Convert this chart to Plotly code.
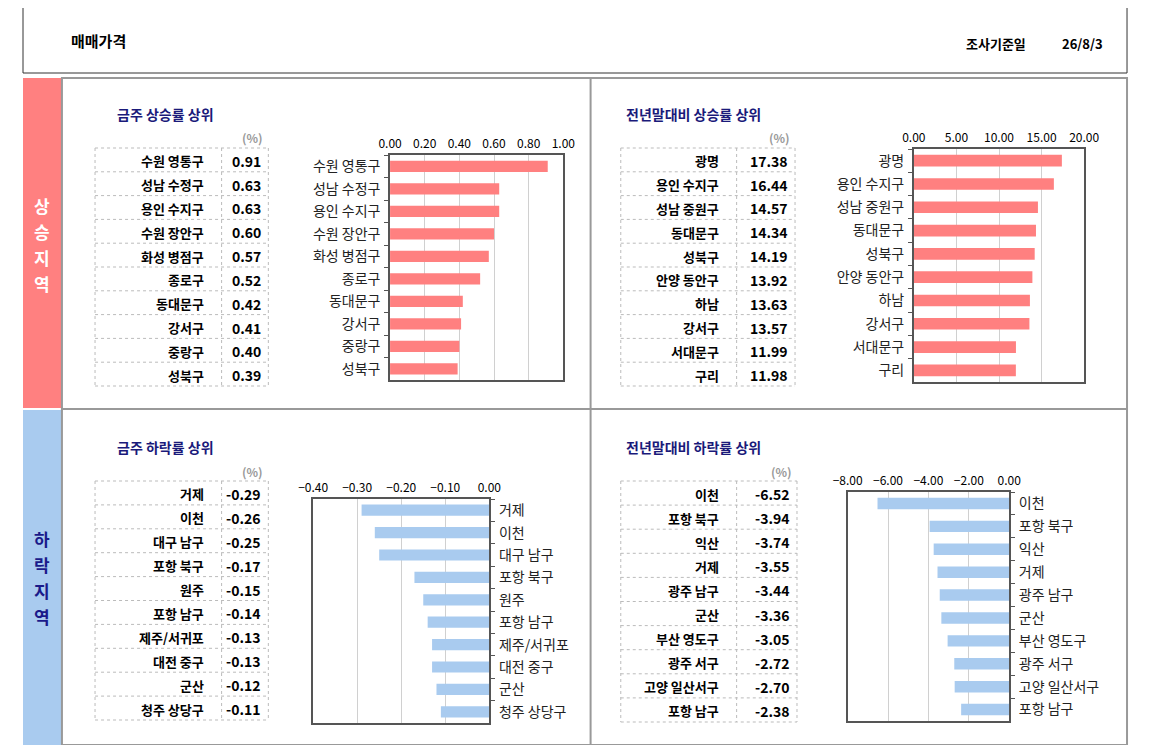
import plotly.graph_objects as go

W, H = 1135, 737
OFF = 8
# ---- data ----
up_week_names = ["수원 영통구","성남 수정구","용인 수지구","수원 장안구","화성 병점구","종로구","동대문구","강서구","중랑구","성북구"]
up_week_vals = [0.91,0.63,0.63,0.60,0.57,0.52,0.42,0.41,0.40,0.39]
up_year_names = ["광명","용인 수지구","성남 중원구","동대문구","성북구","안양 동안구","하남","강서구","서대문구","구리"]
up_year_vals = [17.38,16.44,14.57,14.34,14.19,13.92,13.63,13.57,11.99,11.98]
dn_week_names = ["거제","이천","대구 남구","포항 북구","원주","포항 남구","제주/서귀포","대전 중구","군산","청주 상당구"]
dn_week_vals = [-0.29,-0.26,-0.25,-0.17,-0.15,-0.14,-0.13,-0.13,-0.12,-0.11]
dn_year_names = ["이천","포항 북구","익산","거제","광주 남구","군산","부산 영도구","광주 서구","고양 일산서구","포항 남구"]
dn_year_vals = [-6.52,-3.94,-3.74,-3.55,-3.44,-3.36,-3.05,-2.72,-2.70,-2.38]

RED = "#FF8080"; BLUE = "#A9CBEF"
FONT = "Noto Sans CJK KR"

def px(x): return (x - OFF) / W
def py(y): return 1 - (y - OFF) / H

fig = go.Figure()
shapes, ann = [], []

def rect(x0, y0, x1, y1, line="#999", lw=1.5, fill=None):
    shapes.append(dict(type="rect", xref="paper", yref="paper", x0=px(x0), x1=px(x1), y0=py(y1), y1=py(y0),
                       line=dict(color=line, width=lw) if lw else dict(width=0),
                       fillcolor=fill, layer="below"))

def text(x, y, s, size=13, color="#000", bold=False, xanchor="left"):
    ann.append(dict(xref="paper", yref="paper", x=px(x), y=py(y), text=f"<b>{s}</b>" if bold else s,
                    showarrow=False, xanchor=xanchor, yanchor="middle",
                    font=dict(family=FONT, size=size, color=color)))

# header
rect(8, 5, 1142, 73, line="#333", lw=1)
text(55, 40, "매매가격", 15, bold=True)
text(975, 43, "조사기준일", 13, bold=True)
text(1073, 43, "26/8/3", 13, bold=True)

# side bands
rect(8, 78, 48, 408, lw=0, fill=RED)
rect(8, 410, 48, 745, lw=0, fill=BLUE)
for i, ch in enumerate("상승지역"):
    text(28, 205 + i * 26, ch, 17, color="white", bold=True, xanchor="center")
for i, ch in enumerate("하락지역"):
    text(28, 538 + i * 26, ch, 17, color="#1a1a8a", bold=True, xanchor="center")
# panel frame
rect(48, 78, 1142, 745, line="#999", lw=2)
shapes.append(dict(type="line", xref="paper", yref="paper", x0=px(591), x1=px(591), y0=py(745), y1=py(78), line=dict(color="#999", width=2)))
shapes.append(dict(type="line", xref="paper", yref="paper", x0=px(48), x1=px(1142), y0=py(409), y1=py(409), line=dict(color="#999", width=2)))

def table(x0, xd, x1, y0, y1, names, vals, title, tx, ty):
    text(tx, ty, title, 14, color="#1a1a7a", bold=True)
    text(x1 - 3, y0 - 10, "(%)", 12, color="#999", bold=True, xanchor="right")
    n = len(names); h = (y1 - y0) / n
    for i in range(n + 1):
        yy = y0 + i * h
        shapes.append(dict(type="line", xref="paper", yref="paper", x0=px(x0), x1=px(x1), y0=py(yy), y1=py(yy),
                           line=dict(color="#bbb", width=1, dash="dot")))
    for xx in (x0, xd, x1):
        shapes.append(dict(type="line", xref="paper", yref="paper", x0=px(xx), x1=px(xx), y0=py(y0), y1=py(y1),
                           line=dict(color="#bbb", width=1, dash="dot")))
    for i, (nm, v) in enumerate(zip(names, vals)):
        yc = y0 + (i + 0.5) * h
        text(xd - 16, yc + 1, nm, 13, bold=True, xanchor="right")
        text(x1 - 5, yc + 1, f"{v:.2f}", 14, bold=True, xanchor="right")

table(82, 212, 260, 148, 386, up_week_names, up_week_vals, "금주 상승률 상위", 103, 114)
table(622, 741, 801, 148, 386, up_year_names, up_year_vals, "전년말대비 상승률 상위", 625, 114)
table(82, 212, 260, 481, 720, dn_week_names, dn_week_vals, "금주 하락률 상위", 103, 447)
table(622, 741, 803, 481, 722, dn_year_names, dn_year_vals, "전년말대비 하락률 상위", 625, 447)

charts = [
    (up_week_names, up_week_vals, RED, (385, 563, 155, 380), [0, 1], 0.2, "left"),
    (up_year_names, up_year_vals, RED, (923, 1098, 149, 382), [0, 20], 5, "left"),
    (dn_week_names, dn_week_vals, BLUE, (306, 487, 499, 723), [-0.4, 0], 0.1, "right"),
    (dn_year_names, dn_year_vals, BLUE, (855, 1021, 492, 721), [-8, 0], 2, "right"),
]
layout_axes = {}
for k, (names, vals, col, (x0, x1, y0, y1), rng, dt, side) in enumerate(charts, start=1):
    xa = "x" if k == 1 else f"x{k}"; ya = "y" if k == 1 else f"y{k}"
    fig.add_trace(go.Bar(x=vals, y=names, orientation="h", marker=dict(color=col, line=dict(width=0)),
                         width=0.5, xaxis=xa, yaxis=ya, showlegend=False, hoverinfo="x+y"))
    layout_axes["xaxis" if k == 1 else f"xaxis{k}"] = dict(
        domain=[px(x0), px(x1)], anchor=ya, range=rng, dtick=dt, tickformat=".2f", side="top",
        showgrid=True, gridcolor="#d0d0d0", zeroline=False, showline=True, linecolor="#555", linewidth=1.5,
        mirror=True, ticks="", tickfont=dict(family=FONT, size=12, color="#000"), fixedrange=True)
    layout_axes["yaxis" if k == 1 else f"yaxis{k}"] = dict(
        domain=[py(y1), py(y0)], anchor=xa, type="category", autorange="reversed", side=side,
        ticks="outside", ticklen=4, tickson="boundaries", tickcolor="#555", ticklabelstandoff=5,
        showline=True, linecolor="#555", linewidth=1.5, mirror=True, showgrid=False,
        tickfont=dict(family=FONT, size=14, color="#222"), fixedrange=True)

fig.update_layout(width=W, height=H, margin=dict(l=0, r=0, t=0, b=0), plot_bgcolor="white",
                  paper_bgcolor="white", shapes=shapes, annotations=ann, **layout_axes)
fig.write_html("out.html")
